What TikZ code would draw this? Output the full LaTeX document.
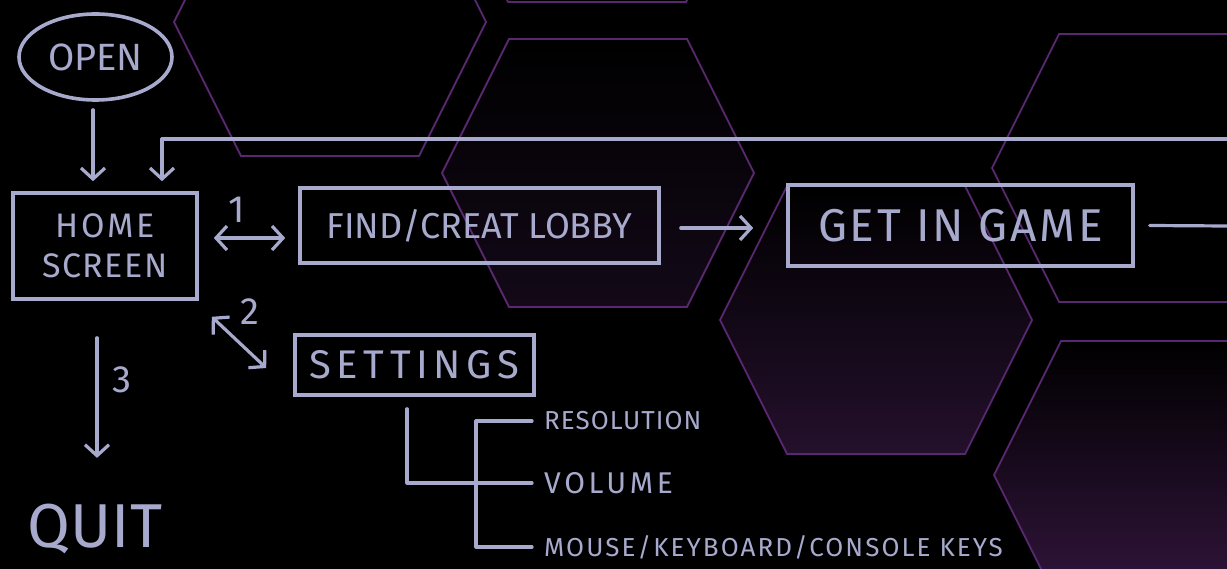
\documentclass[tikz,border=0pt]{standalone}
\usepackage{fontspec}
\setmainfont{Fira Sans}
\usetikzlibrary{arrows.meta,shapes.geometric}
\definecolor{ink}{HTML}{A8AACD}
\definecolor{hexline}{HTML}{5A2870}
\definecolor{hexfillA}{HTML}{130918}
\definecolor{hexfillB}{HTML}{24102C}
\definecolor{hexfillC}{HTML}{34163F}
\newcommand{\hexpath}[2]{(#1-156,#2) -- (#1-89,#2-134) -- (#1+89,#2-134) -- (#1+156,#2) -- (#1+89,#2+134) -- (#1-89,#2+134) -- cycle}
\newcommand{\lsp}[2]{{\addfontfeature{LetterSpace=#1}#2}}
\begin{document}
\begin{tikzpicture}[x=1pt,y=-1pt,
  inkline/.style={draw=ink, line width=3.2pt, line cap=round, line join=round},
  arr/.style={inkline, -{Straight Barb[length=11pt,width=24pt,line width=3.2pt]}},
  darr/.style={inkline, {Straight Barb[length=11pt,width=24pt,line width=3.2pt]}-{Straight Barb[length=11pt,width=24pt,line width=3.2pt]}},
  boxnode/.style={draw=ink, line width=3.6pt, inner sep=0pt, text=ink, align=center},
  lbl/.style={text=ink, inner sep=0pt},
  hexstyle/.style={draw=hexline, line width=1.8pt, line join=miter}
]
\useasboundingbox (0,0) rectangle (1227,569);
\fill[black] (0,0) rectangle (1227,569);
\begin{scope}
\clip (0,0) rectangle (1227,569);
% honeycomb background
\draw[hexstyle] \hexpath{330}{22};
\draw[hexstyle] \hexpath{597}{-132};
\shadedraw[hexstyle, top color=black, bottom color=hexfillA] \hexpath{598}{173};
\shadedraw[hexstyle, top color=black, bottom color=hexfillB] \hexpath{876}{320};
\draw[hexstyle] \hexpath{1148}{168};
\shadedraw[hexstyle, top color=black, bottom color=hexfillC] \hexpath{1150}{475};
\end{scope}

% nodes
\node[boxnode, ellipse, minimum width=153pt, minimum height=86pt, font=\fontsize{38}{40}\selectfont] (open) at (95.5,57) {OPEN};
\node[boxnode, minimum width=184pt, minimum height=106pt, font=\fontsize{34}{40}\selectfont] (home) at (105,246) {\lsp{8}{HOME}\\\lsp{4}{SCREEN}};
\node[boxnode, minimum width=359pt, minimum height=75pt, font=\fontsize{36}{40}\selectfont] (find) at (479.5,225.5) {FIND/CREAT LOBBY};
\node[boxnode, minimum width=345pt, minimum height=81pt, font=\fontsize{46}{50}\selectfont] (game) at (960.5,225.5) {\lsp{6}{GET IN GAME}};
\node[boxnode, minimum width=239pt, minimum height=60pt, font=\fontsize{40}{44}\selectfont] (settings) at (414.5,365) {\lsp{14}{SETTINGS}};
\node[lbl, font=\fontsize{62}{66}\selectfont] (quit) at (95,529) {QUIT};

\node[lbl, anchor=west, font=\fontsize{26}{30}\selectfont] (res) at (544,421) {\lsp{4}{RESOLUTION}};
\node[lbl, anchor=west, font=\fontsize{30}{34}\selectfont] (vol) at (544,483) {\lsp{12}{VOLUME}};
\node[lbl, anchor=west, font=\fontsize{26}{30}\selectfont] (keys) at (544,547) {\lsp{8}{MOUSE/KEYBOARD/CONSOLE KEYS}};

\node[lbl, font=\fontsize{38}{40}\selectfont] (n1) at (237,210) {1};
\node[lbl, font=\fontsize{38}{40}\selectfont] (n2) at (250,312) {2};
\node[lbl, font=\fontsize{38}{40}\selectfont] (n3) at (122,380) {3};

% connectors
\coordinate (loopR) at (1227,139);
\coordinate (exitR) at (1227,226);
\draw[arr, shorten <=8pt, shorten >=10pt] ([xshift=-2.5]open.south) -- ([xshift=-2.5]open.south |- home.north);
\draw[arr, shorten >=10pt] (loopR) -| ([xshift=57]home.north);
\draw[inkline] ([xshift=15]game.east) -- (exitR);
\draw[darr] ([shift={(15,-8)}]home.east) -- ([shift={(-13,12.5)}]find.west);
\draw[arr] ([shift={(20,2.5)}]find.east) -- ([shift={(-33,2.5)}]game.west);
\draw[darr] ([shift={(13,16)}]home.south east) -- ([shift={(-27,3)}]settings.west);
\draw[arr, shorten >=46pt] ([shift={(-8,37)}]home.south) -- ([xshift=-8]home.south |- quit.north);

% settings tree
\coordinate (spine) at (476,483);
\draw[inkline] ([shift={(-7.5,12)}]settings.south) |- (spine);
\draw[inkline] ([xshift=-12]res.west) -| (spine |- keys.west) -- ([xshift=-12]keys.west);
\draw[inkline] (spine) -- ([xshift=-12]vol.west);
\end{tikzpicture}
\end{document}
